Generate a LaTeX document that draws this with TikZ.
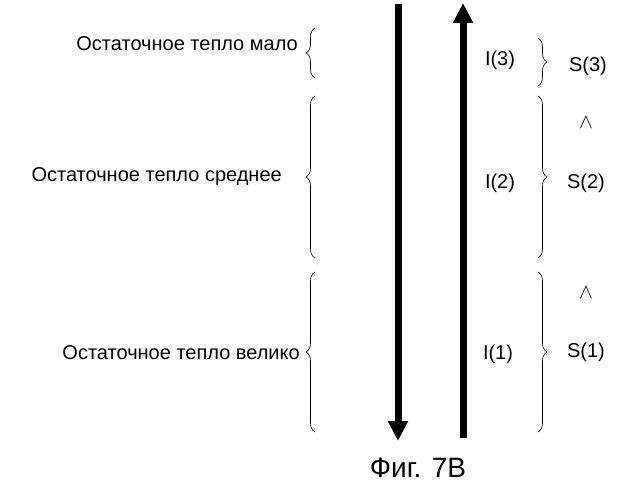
\documentclass[tikz,border=0pt]{standalone}
\usepackage{fontspec}
\setmainfont{Liberation Sans}
\usetikzlibrary{arrows.meta,decorations.pathreplacing}

\begin{document}
\begin{tikzpicture}[x=1pt, y=-1pt]%
  \tikzset{big arrow/.style={draw, line width=7pt, -{Triangle[width=19pt,length=20pt]}}}
  \tikzset{heat brace/.style={draw, semithick, decorate, decoration={brace, amplitude=9pt}}}
  \tikzstyle{every node}=[inner sep=0pt, font=\fontsize{20}{22}\selectfont]

  \useasboundingbox (0,0) rectangle (641,500);

  % arrows
  \coordinate (downtop) at (398,4);
  \coordinate (downbot) at (398,441);
  \coordinate (uptop) at (463,3);
  \coordinate (upbot) at (463,438);
  \path[big arrow] (downtop) -- (downbot);
  \path[big arrow] (upbot) -- (uptop);

  % left braces
  \path[heat brace] (315,78) -- (315,28);
  \path[heat brace] (315,258) -- (315,96);
  \path[heat brace] (315,432) -- (315,272);
  \node[anchor=east] (low) at (298,44) {Остаточное тепло мало};
  \node[anchor=east] (mid) at (282,177) {Остаточное тепло среднее};
  \node[anchor=east] (high) at (300,353) {Остаточное тепло велико};

  % right braces
  \path[heat brace] (538,38) -- (538,86);
  \path[heat brace] (538,96) -- (538,258);
  \path[heat brace] (538,272) -- (538,432);
  \node (I3) at (500,60) {I(3)};
  \node (I2) at (500,183) {I(2)};
  \node (I1) at (498,354) {I(1)};
  \node (S3) at (588,66) {S(3)};
  \node (S2) at (586,183) {S(2)};
  \node (S1) at (586,352) {S(1)};
  \node (gt32) at (586,123) {$\wedge$};
  \node (gt21) at (586,293) {$\wedge$};

  \node[font=\fontsize{28}{30}\selectfont] (fig) at (418,468) {Фиг. 7B};
\end{tikzpicture}
\end{document}
